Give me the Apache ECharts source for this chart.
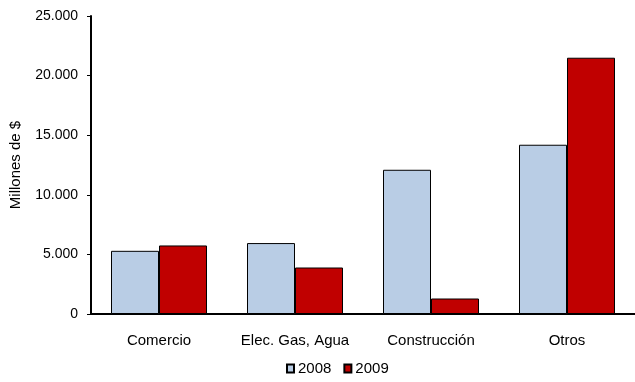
<!DOCTYPE html>
<html>
<head>
<meta charset="utf-8">
<script src="https://cdn.jsdelivr.net/npm/echarts@6/dist/echarts.min.js"></script>
<style>html,body{margin:0;padding:0;background:#fff}#c{width:635px;height:382px}</style>
</head>
<body>
<div id="c"></div>
<script>
var categories = ['Comercio', 'Elec. Gas, Agua', 'Construcción', 'Otros'];
var seriesNames = ['2008', '2009'];
var values2008 = [5300, 5950, 12100, 14200];
var values2009 = [5750, 3900, 1300, 21500];
var yTicks = [0, 5000, 10000, 15000, 20000, 25000];

function fmt(v) {
  return String(v).replace(/\B(?=(\d{3})+(?!\d))/g, '.');
}
var font = 'Liberation Sans, Arial, sans-serif';
var chart = echarts.init(document.getElementById('c'));
chart.setOption({
  animation: false,
  textStyle: { fontFamily: font },
  grid: { left: 90, right: 0, top: 16, bottom: 68 },
  legend: {
    data: seriesNames,
    bottom: 1,
    left: 281,
    itemWidth: 7,
    itemHeight: 8,
    itemGap: 12,
    icon: 'rect',
    textStyle: { fontFamily: font, fontSize: 15, color: '#000', padding: [0, 0, 0, -1] }
  },
  xAxis: {
    type: 'category',
    data: categories,
    axisLine: { lineStyle: { color: '#000', width: 2 } },
    axisTick: { show: false },
    axisLabel: { color: '#000', fontSize: 15, margin: 19, fontFamily: font, interval: 0, hideOverlap: false }
  },
  yAxis: {
    type: 'value',
    min: yTicks[0],
    max: yTicks[yTicks.length - 1],
    interval: 5000,
    name: 'Millones de $',
    nameLocation: 'middle',
    nameGap: 68,
    nameTextStyle: { color: '#000', fontSize: 15, fontFamily: font },
    axisLine: { show: true, lineStyle: { color: '#000', width: 2 } },
    axisTick: { show: true, length: 4, lineStyle: { color: '#000', width: 1 } },
    splitLine: { show: false },
    axisLabel: { color: '#000', fontSize: 14, margin: 13, fontFamily: font, formatter: fmt }
  },
  series: [
    {
      name: seriesNames[0], type: 'bar', data: values2008,
      barWidth: 48, barGap: '0%',
      itemStyle: { color: '#B9CDE5', borderColor: '#000', borderWidth: 1 }
    },
    {
      name: seriesNames[1], type: 'bar', data: values2009,
      barWidth: 48, barGap: '0%',
      itemStyle: { color: '#C00000', borderColor: '#000', borderWidth: 1 }
    }
  ]
});
</script>
</body>
</html>
